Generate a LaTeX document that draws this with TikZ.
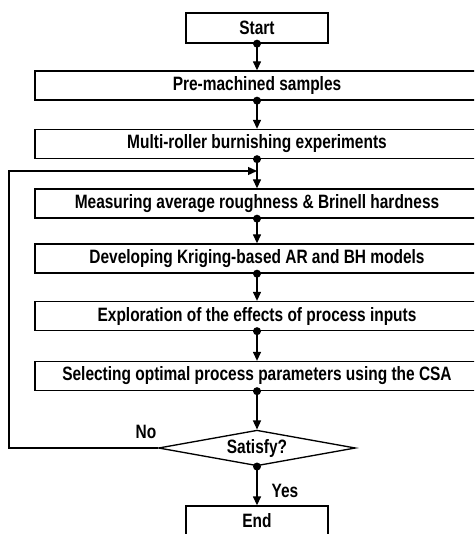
\documentclass[tikz,border=0pt]{standalone}
\usepackage{fontspec}
\setmainfont{Liberation Sans}[FakeStretch=0.8]
\usetikzlibrary{shapes.geometric,arrows.meta}

\tikzset{
	endbox/.style={draw, line width=1pt, minimum width=106.5pt, minimum height=22.5pt, inner sep=0pt, font=\fontsize{14.5}{16}\selectfont\bfseries},
	stepbox/.style={draw, line width=1pt, minimum width=333pt, minimum height=21.75pt, inner sep=0pt, font=\fontsize{14.5}{16}\selectfont\bfseries},
	testbox/.style={draw, diamond, line width=1pt, aspect=3.4, minimum width=147.75pt, inner sep=0pt, font=\fontsize{14.5}{16}\selectfont\bfseries},
	flowarrow/.style={line width=1pt, -{Triangle[length=6.75pt,width=6pt]}},
	answer/.style={inner sep=0.75pt, font=\fontsize{14.5}{16}\selectfont\bfseries}
}

\begin{document}
\begin{tikzpicture}[x=0.75pt,y=0.75pt,yscale=-1,xscale=1]
			\useasboundingbox (0,0) rectangle (474,534);
			\clip (0,0) rectangle (474,534);
			
			%Shape: Rectangle [start]
			\node [endbox] (start) at (257,28) {Start};
			%Shape: Rectangle [steps]
			\node [stepbox] (pre) at (257,85.5) {Pre-machined samples};
			\node [stepbox] (multi) at (257,144) {Multi-roller burnishing experiments};
			\node [stepbox] (measure) at (257,203.5) {Measuring average roughness \& Brinell hardness};
			\node [stepbox] (develop) at (257,258.5) {Developing Kriging-based AR and BH models};
			\node [stepbox] (explore) at (257,316) {Exploration of the effects of process inputs};
			\node [stepbox] (select) at (257,376) {Selecting optimal process parameters using the CSA};
			%Shape: Diamond [check]
			\node [testbox] (check) at (257,448) {Satisfy?};
			%Shape: Rectangle [end]
			\node [endbox] (finish) at (257,521) {End};
			
			%Straight Lines [flow]
			\foreach \a/\b in {start/pre, pre/multi, multi/measure, measure/develop, develop/explore, explore/select, select/check, check/finish} {
				\fill (\a.south) circle (3pt);
				\draw [flowarrow] (\a.south) -- (\b.north);
			}
			
			%Straight Lines [loop back]
			\coordinate (back) at (257,171);
			\draw [flowarrow] (check.west) -- (9,448) -- (9,171) -- (back);
			
			% Text Node
			\node [answer] (no) at (146,432) {No};
			% Text Node
			\node [answer] (yes) at (285,491) {Yes};
			
\end{tikzpicture}
\end{document}
